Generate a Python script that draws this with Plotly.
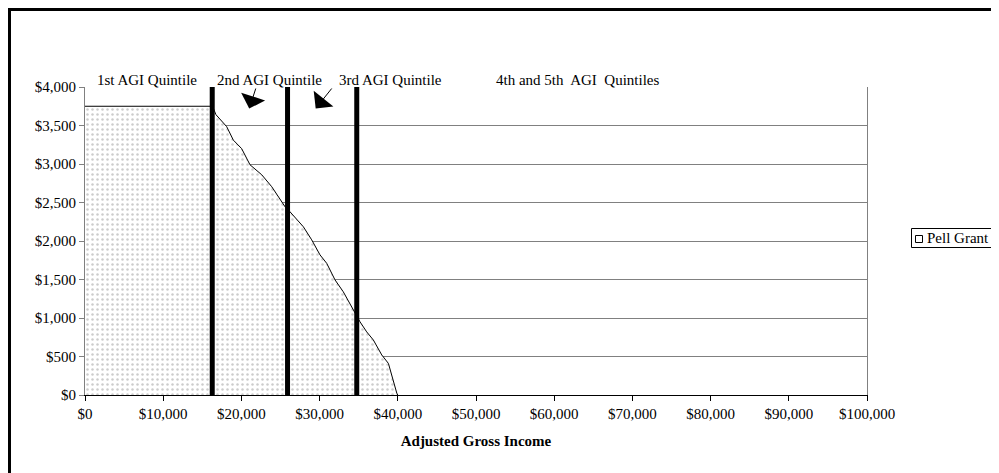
import plotly.graph_objects as go

# ---- data ----
agi = [0, 16300, 16750, 18120, 18970, 20030, 21100, 22600, 23880, 24720, 25580, 26210,
       27920, 28990, 30050, 30910, 31970, 33030, 34310, 35170, 36020, 36870, 37950,
       38800, 39870, 40000]
pell = [3750, 3750, 3640, 3485, 3310, 3200, 2990, 2860, 2705, 2575, 2445, 2380,
        2185, 2015, 1820, 1710, 1495, 1340, 1105, 950, 820, 715, 520,
        410, 25, 0]
quintile_bounds = [16270, 25900, 34750]
quintile_labels = ["1st AGI Quintile", "2nd AGI Quintile", "3rd AGI Quintile",
                   "4th and 5th  AGI  Quintiles"]
x_tickvals = [0, 10000, 20000, 30000, 40000, 50000, 60000, 70000, 80000, 90000, 100000]
x_ticktext = ["$0", "$10,000", "$20,000", "$30,000", "$40,000", "$50,000", "$60,000",
              "$70,000", "$80,000", "$90,000", "$100,000"]
y_tickvals = [0, 500, 1000, 1500, 2000, 2500, 3000, 3500, 4000]
y_ticktext = ["$0", "$500", "$1,000", "$1,500", "$2,000", "$2,500", "$3,000", "$3,500", "$4,000"]
series_name = "Pell Grant"

FONT = "Liberation Serif"
FS = 15

OFF = 8  # page body margin
W, H = 999 - OFF, 473 - OFF
# plot area in window pixels: x 85..867, y 87..395
L = 85 - OFF
T = 87 - OFF
R = W - (867 - OFF)
B = H - (395 - OFF)
PW, PH = W - L - R, H - T - B


def px_x(px):
    return (px - OFF - L) / PW


def px_y(py):
    return (H - B - (py - OFF)) / PH


fig = go.Figure()
fig.add_trace(go.Scatter(
    x=agi, y=pell, mode="lines", fill="tozeroy", name=series_name,
    line=dict(color="black", width=1),
    fillcolor="white",
    fillpattern=dict(shape=".", fgcolor="#9a9a9a", bgcolor="white", size=5, solidity=0.2),
    showlegend=False, hoverinfo="skip",
))

shapes = []
for b in quintile_bounds:
    shapes.append(dict(type="line", xref="x", yref="y", x0=b, x1=b, y0=0, y1=4000,
                       line=dict(color="black", width=5)))
# outer chart border
shapes.append(dict(type="rect", xref="paper", yref="paper", x0=px_x(9.5), x1=px_x(1100),
                   y0=px_y(600), y1=px_y(9.5), line=dict(color="black", width=3),
                   fillcolor="rgba(0,0,0,0)", layer="above"))
# legend box + key
shapes.append(dict(type="rect", xref="paper", yref="paper", x0=px_x(911.5), x1=px_x(994.5),
                   y0=px_y(247.5), y1=px_y(228.5), line=dict(color="black", width=1),
                   fillcolor="white"))
shapes.append(dict(type="rect", xref="paper", yref="paper", x0=px_x(915.5), x1=px_x(922.5),
                   y0=px_y(242.5), y1=px_y(235.5), line=dict(color="black", width=1),
                   fillcolor="white"))

annotations = []
label_x_px = [95, 215, 337, 494]
for lbl, px in zip(quintile_labels, label_x_px):
    annotations.append(dict(text=lbl, xref="paper", yref="paper",
                            x=px_x(px), y=px_y(80),
                            xanchor="left", yanchor="middle", showarrow=False,
                            font=dict(family=FONT, size=FS, color="black")))
annotations.append(dict(text=series_name, xref="paper", yref="paper",
                        x=px_x(925), y=px_y(238), xanchor="left", yanchor="middle",
                        showarrow=False, font=dict(family=FONT, size=FS, color="black")))
# arrows
annotations.append(dict(text="", xref="x", yref="y", axref="x", ayref="y",
                        x=21000, y=3720, ax=21900, ay=4000, showarrow=True,
                        arrowhead=1, arrowsize=4.2, arrowwidth=1, arrowcolor="black"))
annotations.append(dict(text="", xref="x", yref="y", axref="x", ayref="y",
                        x=29500, y=3720, ax=31700, ay=4000, showarrow=True,
                        arrowhead=1, arrowsize=4.2, arrowwidth=1, arrowcolor="black"))

fig.update_layout(
    width=W, height=H,
    margin=dict(l=L, r=R, t=T, b=B, autoexpand=False),
    paper_bgcolor="white", plot_bgcolor="white",
    font=dict(family=FONT, size=FS, color="black"),
    shapes=shapes, annotations=annotations,
    showlegend=False,
    xaxis=dict(range=[0, 100000], tickvals=x_tickvals, ticktext=x_ticktext,
               showgrid=False, zeroline=False, showline=True, linecolor="black",
               linewidth=1, ticks="outside", ticklen=5, tickcolor="black",
               title=dict(text="<b>Adjusted Gross Income</b>", standoff=14,
                          font=dict(family=FONT, size=FS))),
    yaxis=dict(range=[0, 4000], tickvals=y_tickvals, ticktext=y_ticktext,
               showgrid=True, gridcolor="#808080", gridwidth=1, zeroline=False,
               showline=True, linecolor="#808080", linewidth=1, mirror=True,
               ticks="outside", ticklen=5, tickcolor="#808080"),
)

fig.write_html("out.html")
